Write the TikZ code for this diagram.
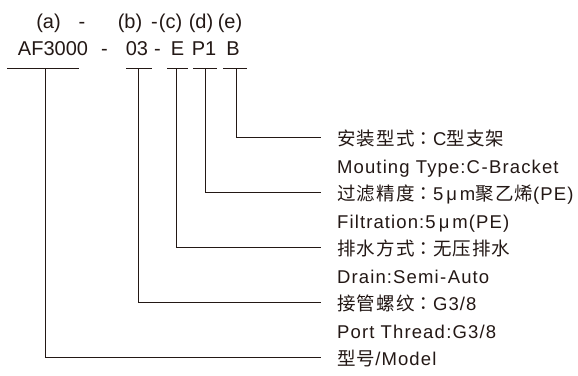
\documentclass[tikz,border=0pt]{standalone}
\usepackage{fontspec}
\setmainfont{Liberation Sans}
\newfontfamily\latf[LetterSpace=6]{Liberation Sans}
\newfontfamily\cjkf[LetterSpace=6]{Noto Sans CJK SC}
\newfontfamily\cjktcf[LetterSpace=6]{Noto Sans CJK TC}
\newcommand\zh[1]{{\cjkf #1}}
\newcommand\zc{{\cjktcf ：}}
\newcommand\hy{\hspace{1.5pt}-\hspace{1.5pt}}
\definecolor{ink}{HTML}{231815}
\begin{document}
\begin{tikzpicture}[x=1pt,y=-1pt]
\tikzset{
  code/.style={anchor=base, inner sep=0pt, font=\fontsize{20}{20}\selectfont, text=ink},
  lbl/.style={anchor=base west, inner sep=0pt, font=\fontsize{18.5}{18.5}\selectfont\latf, text=ink},
  conn/.style={draw=ink, line width=0.8pt},
  uline/.style={draw=ink, line width=0.8pt}
}
\useasboundingbox[fill=white] (0,0) rectangle (578,375);
% top row: letters
\node[code] (ta) at (48.5,28.5) {(a)};
\node[code] (tdash1) at (82,28.5) {-};
\node[code] (tb) at (130,28.5) {(b)};
\node[code] (tdash2) at (154.5,28.5) {-};
\node[code] (tc) at (170.5,28.5) {(c)};
\node[code] (td) at (201,28.5) {(d)};
\node[code] (te) at (230,28.5) {(e)};
% second row: code
\node[code] (ca) at (53,55) {AF3000};
\node[code] (cdash1) at (104.5,55) {-};
\node[code] (cb) at (137,55) {03};
\node[code] (cdash2) at (157.5,55) {-};
\node[code] (cc) at (177.5,55) {E};
\node[code] (cd) at (204,55) {P1};
\node[code] (ce) at (233,55) {B};
% underlines
\coordinate (ua1) at (7,68);   \coordinate (ua2) at (79,68);   \coordinate (ua) at (45,68);
\coordinate (ub1) at (126,68); \coordinate (ub2) at (152,68);  \coordinate (ub) at (138,68);
\coordinate (uc1) at (167,68); \coordinate (uc2) at (188,68);  \coordinate (uc) at (176,68);
\coordinate (ud1) at (193,68); \coordinate (ud2) at (217,68);  \coordinate (ud) at (205,68);
\coordinate (ue1) at (223,68); \coordinate (ue2) at (247,68);  \coordinate (ue) at (236,68);
\draw[uline] (ua1) -- (ua2);
\draw[uline] (ub1) -- (ub2);
\draw[uline] (uc1) -- (uc2);
\draw[uline] (ud1) -- (ud2);
\draw[uline] (ue1) -- (ue2);
% right labels
\node[lbl] (le) at (337,145.8) {\zh{安装型式}\zc C\zh{型支架}};
\node[lbl] (lee) at (337,173.3) {Mouting Type:C\hy Bracket};
\node[lbl] (ld) at (337,200.8) {\zh{过滤精度}\zc 5\hspace{3pt}μ\hspace{3pt}m\zh{聚乙烯}(PE)};
\node[lbl] (lde) at (337,228.3) {Filtration:5\hspace{3pt}μ\hspace{3pt}m(PE)};
\node[lbl] (lc) at (337,255.8) {\zh{排水方式}\zc\zh{无压排水}};
\node[lbl] (lce) at (337,283.3) {Drain:Semi\hy Auto};
\node[lbl] (lb) at (337,310.8) {\zh{接管螺纹}\zc G3/8};
\node[lbl] (lbe) at (337,338.3) {Port Thread\hspace{1.5pt}:G3/8};
\node[lbl] (la) at (337,365.8) {\zh{型号}/Model};
% connector ends
\coordinate (ee) at (321,137.8);
\coordinate (ed) at (321,192.8);
\coordinate (ec) at (321,247.8);
\coordinate (eb) at (321,302.8);
\coordinate (ea) at (321,357.8);
\draw[conn] (ue) |- (ee);
\draw[conn] (ud) |- (ed);
\draw[conn] (uc) |- (ec);
\draw[conn] (ub) |- (eb);
\draw[conn] (ua) |- (ea);
\end{tikzpicture}
\end{document}
